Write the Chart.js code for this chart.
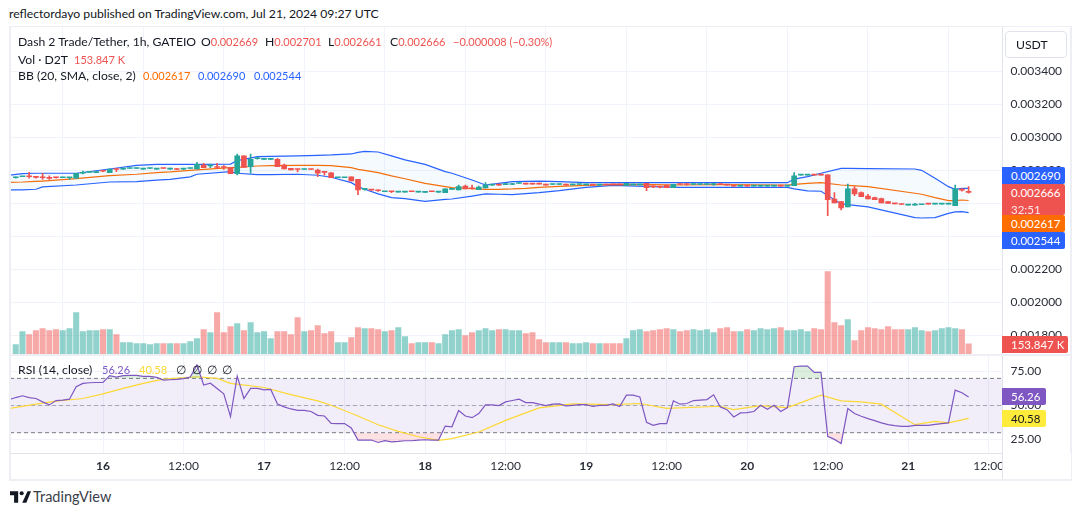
<!DOCTYPE html>
<html>
<head>
<meta charset="utf-8">
<script src="https://cdn.jsdelivr.net/npm/chart.js@4"></script>
<style>
  html, body { margin: 0; padding: 0; background: #fff; }
  body { width: 1080px; height: 515px; position: relative; overflow: hidden; font-family: Lato, sans-serif; font-size: 12.2px; color: #131722; }
  canvas { position: absolute; }
  .t { position: absolute; white-space: nowrap; line-height: 16px; }
  .n { font-size: 11px; }
  .tag { position: absolute; left: 1002px; padding-left: 9px; box-sizing: border-box; color: #fff; font-size: 11.5px; border-radius: 0 2px 2px 0; line-height: 17px; }
  .frame { position: absolute; background: #edeff5; }
</style>
</head>
<body>
<canvas id="priceChart" width="1060" height="327" style="left:10px;top:27px"></canvas>
<canvas id="rsiChart" width="1060" height="124" style="left:10px;top:356px"></canvas>

<div class="frame" style="left:9px;top:26px;width:1062px;height:1px"></div>
<div class="frame" style="left:9px;top:26px;width:2px;height:455px"></div>
<div class="frame" style="left:1070px;top:26px;width:2px;height:455px"></div>
<div class="frame" style="left:9px;top:479px;width:1063px;height:2px"></div>
<div class="frame" style="left:10px;top:354px;width:1060px;height:2px"></div>
<!-- cuts the last time label at the price scale -->
<div style="position:absolute;left:1002px;top:453px;width:68px;height:26px;background:#fff;border-left:1px solid #e0e3eb"></div>

<div class="t" style="left:9px;top:6px">reflectordayo published on TradingView.com, Jul 21, 2024 09:27 UTC</div>

<div class="t" style="left:18px;top:34px">Dash 2 Trade/Tether, 1h, GATEIO</div>
<div class="t" style="left:201px;top:34px">O<span class="n" style="color:#ef5350">0.002669</span></div>
<div class="t" style="left:265px;top:34px">H<span class="n" style="color:#ef5350">0.002701</span></div>
<div class="t" style="left:328px;top:34px">L<span class="n" style="color:#ef5350">0.002661</span></div>
<div class="t" style="left:390px;top:34px">C<span class="n" style="color:#ef5350">0.002666</span></div>
<div class="t n" style="left:453px;top:34px;color:#ef5350">−0.000008 (−0.30%)</div>
<div class="t" style="left:18px;top:52px">Vol · D2T</div>
<div class="t n" style="left:74px;top:52px;color:#ef5350">153.847 K</div>
<div class="t" style="left:18px;top:68px">BB (20, SMA, close, 2)</div>
<div class="t n" style="left:143px;top:68px;color:#ff6d00">0.002617</div>
<div class="t n" style="left:198px;top:68px;color:#2962ff">0.002690</div>
<div class="t n" style="left:254px;top:68px;color:#2962ff">0.002544</div>

<div class="t" style="left:18px;top:362px">RSI (14, close)</div>
<div class="t n" style="left:102px;top:362px;color:#7e57c2">56.26</div>
<div class="t n" style="left:139px;top:362px;color:#fdd835">40.58</div>
<div class="t" style="left:176px;top:362px">∅</div>
<div class="t" style="left:192px;top:362px">∅</div>
<div class="t" style="left:207px;top:362px">∅</div>
<div class="t" style="left:222px;top:362px">∅</div>

<div class="t" style="left:1005px;top:31px;width:50px;height:25px;padding-left:10px;line-height:25px;border:1px solid #e0e3eb;border-radius:4px">USDT</div>

<div class="tag" style="top:167px;width:63px;height:17px;background:#2962ff">0.002690</div>
<div class="tag" style="top:184px;width:63px;height:31px;background:#ef5350">0.002666<br><span style="opacity:.85">32:51</span></div>
<div class="tag" style="top:215px;width:63px;height:17px;background:#ff6d00">0.002617</div>
<div class="tag" style="top:232px;width:63px;height:17px;background:#2962ff">0.002544</div>
<div class="tag" style="top:336px;width:66px;height:17px;background:#ef5350">153.847 K</div>
<div class="tag" style="top:388px;width:44px;height:17px;background:#7e57c2">56.26</div>
<div class="tag" style="top:410px;width:44px;height:17px;background:#ffeb3b;color:#131722">40.58</div>

<svg style="position:absolute;left:10px;top:491px" width="21" height="12" viewBox="0 0 36 20">
  <path d="M0 0h14v20H7V7H0z M30 0l6 0-8 20h-7z" fill="#131722"/><circle cx="20" cy="3.5" r="3.5" fill="#131722"/>
</svg>
<div class="t" style="left:33px;top:489px;font-size:14.5px;color:#3a3e49">TradingView</div>

<script>
// prices in millionths of USDT, one candle per hour, bar 0 = Jul 15 11:00
const opens = [
  2755,2761,2763,2759,2757,2753,2757,2755,2755,2752,2782,2787,2786,2796,2786,2807,2807,2811,2811,2807,
  2811,2807,2813,2807,2807,2807,2811,2808,2832,2826,2819,2819,2816,2780,2887,2822,2870,2866,2866,2867,
  2832,2812,2807,2805,2807,2802,2789,2784,2755,2755,2760,2745,2684,2682,2678,2670,2672,2668,2668,2672,
  2668,2666,2672,2668,2665,2684,2681,2705,2690,2683,2693,2710,2712,2713,2714,2720,2718,2718,2718,2712,
  2714,2714,2712,2712,2714,2712,2712,2710,2717,2714,2714,2709,2712,2712,2721,2702,2700,2711,2695,2716,
  2716,2714,2714,2714,2714,2716,2712,2706,2704,2706,2704,2704,2704,2704,2706,2704,2707,2771,2771,2773,
  2773,2772,2626,2610,2578,2687,2665,2644,2634,2628,2610,2599,2595,2589,2589,2591,2597,2595,2595,2595,
  2586,2682,2669];
const closes = [
  2757,2763,2761,2757,2755,2751,2755,2757,2757,2782,2788,2789,2792,2794,2808,2805,2809,2813,2813,2809,
  2813,2809,2811,2809,2805,2809,2813,2836,2816,2830,2817,2817,2780,2887,2818,2867,2872,2868,2868,2822,
  2808,2802,2805,2807,2805,2782,2787,2756,2757,2757,2735,2681,2686,2680,2676,2672,2670,2670,2670,2670,
  2670,2668,2670,2670,2687,2686,2701,2687,2688,2699,2711,2712,2710,2719,2716,2722,2716,2716,2716,2710,
  2716,2716,2710,2714,2716,2714,2710,2712,2711,2712,2712,2721,2714,2714,2695,2700,2698,2695,2715,2714,
  2714,2716,2716,2716,2716,2714,2710,2704,2706,2704,2706,2706,2706,2706,2704,2706,2766,2773,2773,2771,
  2771,2622,2602,2572,2687,2657,2640,2626,2622,2602,2600,2597,2593,2591,2591,2593,2595,2597,2597,2597,
  2687,2680,2666];
const highs = [
  2760,2763,2788,2763,2782,2766,2759,2759,2757,2782,2796,2791,2792,2796,2808,2812,2812,2813,2813,2811,
  2813,2812,2813,2813,2811,2812,2813,2848,2842,2838,2842,2828,2818,2899,2887,2899,2878,2870,2873,2873,
  2838,2812,2807,2807,2807,2808,2789,2786,2757,2757,2760,2745,2690,2682,2682,2672,2672,2670,2672,2672,
  2670,2668,2672,2670,2687,2686,2711,2711,2711,2705,2725,2712,2715,2719,2721,2722,2722,2718,2722,2716,
  2716,2716,2716,2714,2716,2714,2712,2712,2717,2714,2714,2721,2714,2714,2721,2706,2704,2711,2715,2716,
  2716,2716,2716,2716,2721,2716,2712,2706,2706,2706,2706,2706,2708,2706,2706,2706,2786,2773,2773,2773,
  2776,2772,2665,2612,2717,2701,2669,2655,2637,2632,2612,2599,2595,2591,2600,2593,2600,2597,2597,2597,
  2711,2689,2701];
const lows = [
  2753,2761,2752,2752,2745,2745,2752,2755,2745,2752,2778,2786,2786,2792,2786,2792,2806,2811,2811,2805,
  2811,2805,2811,2805,2804,2804,2811,2808,2816,2816,2810,2806,2780,2772,2818,2782,2868,2866,2865,2822,
  2808,2802,2790,2805,2805,2762,2770,2756,2755,2755,2735,2653,2680,2680,2672,2670,2665,2668,2668,2670,
  2668,2666,2670,2665,2665,2684,2681,2687,2685,2683,2693,2708,2709,2713,2713,2720,2716,2716,2716,2710,
  2714,2714,2710,2712,2714,2712,2710,2710,2711,2712,2712,2709,2712,2712,2677,2695,2693,2695,2695,2714,
  2710,2714,2714,2714,2709,2714,2710,2704,2704,2704,2704,2704,2704,2704,2704,2704,2707,2771,2771,2771,
  2771,2525,2602,2560,2578,2646,2640,2626,2622,2602,2600,2597,2593,2589,2589,2591,2595,2595,2595,2595,
  2586,2673,2661];
// volume in thousands of D2T
const volumes = [
  140,335,290,350,380,350,365,350,380,620,335,350,350,365,365,290,170,170,155,155,
  140,155,155,155,155,155,185,230,365,320,620,320,410,455,350,470,320,335,230,335,
  335,290,545,335,350,425,305,335,170,170,245,395,380,380,365,335,350,395,260,155,
  170,170,170,155,290,350,365,275,320,350,380,350,365,365,350,350,305,320,215,170,
  170,170,170,155,155,170,155,155,155,155,155,230,350,365,335,350,365,380,365,335,
  350,365,350,365,320,380,395,335,335,365,350,380,365,380,395,350,350,365,335,380,
  365,1235,470,425,515,200,350,395,380,365,410,365,365,365,395,350,335,350,380,395,
  380,365,153.847];

// Bollinger bands, read at these bars
const bbHours = [-1,1,3,4,9,14,18,21,23,26,27,32,33,36,38,42,45,47,50,51,52,54,56,58,61,64,65,68,70,72,74,76,78,81,85,89,95,99,105,115,116,118,120,123,124,127,134,135,137,139,140,141,142];
const bbUpper = [2770,2780,2782,2782,2782,2808,2830,2836,2836,2836,2836,2838,2859,2883,2885,2887,2891,2893,2899,2909,2915,2911,2887,2863,2836,2792,2782,2741,2711,2721,2731,2733,2735,2731,2725,2725,2725,2725,2725,2725,2747,2762,2782,2812,2812,2810,2808,2800,2752,2701,2685,2691,2690];
const bbBasis = [2727,2729,2733,2735,2749,2768,2776,2786,2790,2800,2802,2816,2818,2826,2828,2830,2830,2828,2816,2806,2800,2786,2766,2749,2721,2701,2695,2689,2685,2685,2687,2691,2697,2703,2709,2715,2713,2711,2713,2711,2715,2721,2725,2711,2709,2701,2661,2655,2634,2616,2616,2620,2617];
const bbLower = [2681,2681,2685,2699,2711,2729,2731,2741,2745,2760,2776,2792,2782,2774,2774,2776,2770,2758,2725,2701,2685,2657,2634,2628,2612,2624,2626,2644,2657,2655,2653,2659,2665,2677,2697,2709,2701,2697,2697,2697,2687,2675,2673,2596,2592,2578,2513,2511,2513,2539,2548,2550,2544];

// RSI per bar, first value is the bar before the first candle
const rsiValues = [
  54.4,55.9,57.2,55.9,55.2,52.7,50.5,53.7,54.0,54.7,63.8,66.3,66.8,67.0,67.0,72.0,71.0,72.0,72.2,72.2,
  71.5,71.5,70.7,68.8,69.0,69.3,69.8,71.0,79.9,65.1,66.5,62.6,58.6,41.9,71.7,55.2,62.6,62.6,61.6,61.9,
  51.2,49.0,47.5,46.5,46.5,45.6,42.8,42.3,36.9,36.7,36.7,33.5,24.6,24.6,24.6,22.8,24.1,23.3,23.6,24.1,
  24.1,24.6,24.8,24.6,24.6,34.9,34.4,46.3,42.3,41.1,44.1,50.5,50.5,50.0,52.7,53.7,54.7,52.2,52.2,51.0,
  50.0,51.0,51.2,49.8,50.2,50.7,50.7,49.3,50.2,50.2,51.2,49.3,57.7,57.7,56.4,37.7,35.4,36.7,36.7,53.5,
  51.0,51.5,53.7,54.0,54.4,57.9,49.0,47.0,41.6,44.6,44.8,45.6,50.2,47.3,50.2,45.6,48.5,78.6,79.1,79.1,
  74.4,74.4,27.3,25.1,22.1,47.8,44.1,42.1,40.4,38.9,37.2,35.9,35.2,34.7,34.7,35.4,35.4,35.4,36.2,36.7,
  37.2,61.4,59.4,56.26];
const rsiMaHours = [-1,3,6,10,13,16,19,22,27,30,32,37,41,45,47,51,54,57,60,63,65,69,73,78,83,89,93,97,105,107,111,115,120,123,126,129,134,137,139,142];
const rsiMaValues = [47.8,51,53.2,55.2,58.6,62.6,66.3,69.5,71.2,70,66.3,63.3,58.1,53.5,50.2,42.3,35.9,31,27,24.3,25.6,30.5,39.1,48.3,51.2,50.7,51.5,48,49.5,47,50,48.5,57.7,53.5,52.7,51,35.9,38.4,37.2,40.58];

const priceTicks = [3400,3200,3000,2800,2600,2400,2200,2000,1800];
const rsiTicks = [75,50,25];
const timeTickHours = [13,25,37,49,61,73,85,97,109,121,133,145];
const timeTickLabels = ["16","12:00","17","12:00","18","12:00","19","12:00","20","12:00","21","12:00"];

const UP = "#26a69a", DOWN = "#ef5350";
const UP_VOL = "rgba(38,166,154,0.5)", DOWN_VOL = "rgba(239,83,80,0.5)";
const GRID = "#f0f3fa", AXIS = "#e0e3eb", TEXT = "#2a2e39";
const FONT = "Lato, sans-serif";
const xMin = -0.86, xMax = 147.05;

Chart.defaults.animation = false;
Chart.defaults.font.family = FONT;

const isUp = closes.map((c, i) => c >= opens[i]);
const lineOf = (hours, values) => values.map((y, i) => ({ x: hours[i], y }));
const barHours = opens.map((_, i) => i);
const rsiHours = rsiValues.map((_, i) => i - 1);

const xAxis = (showLabels) => ({
  type: "linear", min: xMin, max: xMax, offset: false,
  afterBuildTicks: (s) => { s.ticks = timeTickHours.map((value) => ({ value })); },
  afterFit: (s) => { s.height = showLabels ? 27 : 0; s.paddingLeft = 0; s.paddingRight = 0; },
  grid: { color: GRID, drawTicks: false },
  border: { display: showLabels, color: AXIS },
  ticks: {
    display: showLabels, autoSkip: false, maxRotation: 0, padding: 6, color: TEXT,
    font: (ctx) => ({ size: 12, family: FONT, weight: ctx.tick && !String(ctx.tick.label).includes(":") ? "bold" : "normal" }),
    callback: (v) => timeTickLabels[timeTickHours.indexOf(v)],
  },
});

const yAxis = (min, max, ticks, digits, scaleBy) => ({
  position: "right", min, max,
  afterBuildTicks: (s) => { s.ticks = ticks.map((value) => ({ value })); },
  // the label half-heights would otherwise shrink the pane
  afterFit: (s) => { s.width = 67.5; s.paddingTop = 0; s.paddingBottom = 0; },
  grid: { color: GRID, drawTicks: false },
  border: { color: AXIS },
  ticks: { padding: 8, color: TEXT, font: { size: 12 }, callback: (v) => (v / scaleBy).toFixed(digits) },
});

new Chart(document.getElementById("priceChart"), {
  type: "bar",
  data: {
    datasets: [
      { type: "line", data: lineOf(bbHours, bbUpper), yAxisID: "y", order: 4, borderColor: "#2962ff", borderWidth: 1.2, pointRadius: 0,
        fill: "+2", backgroundColor: "rgba(33,150,243,0.05)" },
      { type: "line", data: lineOf(bbHours, bbBasis), yAxisID: "y", order: 4, borderColor: "#ff6d00", borderWidth: 1.2, pointRadius: 0 },
      { type: "line", data: lineOf(bbHours, bbLower), yAxisID: "y", order: 4, borderColor: "#2962ff", borderWidth: 1.2, pointRadius: 0 },
      { data: volumes.map((y, i) => ({ x: i, y })), yAxisID: "yVol", order: 5, grouped: false, barThickness: 5.4,
        backgroundColor: isUp.map((u) => (u ? UP_VOL : DOWN_VOL)) },
      { data: barHours.map((x) => ({ x, y: [lows[x], highs[x]] })), yAxisID: "y", order: 2, grouped: false, barThickness: 1,
        backgroundColor: isUp.map((u) => (u ? UP : DOWN)) },
      { data: barHours.map((x) => ({ x, y: [opens[x], closes[x]] })), yAxisID: "y", order: 1, grouped: false, barThickness: 5, minBarLength: 1,
        backgroundColor: isUp.map((u) => (u ? UP : DOWN)) },
    ],
  },
  options: {
    responsive: false,
    layout: { padding: 0, autoPadding: false },
    plugins: { legend: { display: false }, tooltip: { enabled: false } },
    scales: {
      x: xAxis(false),
      y: yAxis(1686.7, 3668.5, priceTicks, 6, 1e6),
      yVol: { display: false, min: 0, max: 4905 },
    },
  },
});

new Chart(document.getElementById("rsiChart"), {
  type: "line",
  data: {
    datasets: [
      { data: [{ x: xMin, y: 70 }, { x: xMax, y: 70 }], order: 3, borderColor: "#787b86", borderWidth: 1, borderDash: [4, 3], pointRadius: 0,
        fill: "+1", backgroundColor: "rgba(126,87,194,0.1)" },
      { data: [{ x: xMin, y: 30 }, { x: xMax, y: 30 }], order: 3, borderColor: "#787b86", borderWidth: 1, borderDash: [4, 3], pointRadius: 0 },
      { data: [{ x: xMin, y: 50 }, { x: xMax, y: 50 }], order: 3, borderColor: "rgba(120,123,134,0.6)", borderWidth: 1, borderDash: [4, 3], pointRadius: 0 },
      { data: lineOf(rsiHours, rsiValues), order: 1, borderColor: "#7e57c2", borderWidth: 1.2, pointRadius: 0,
        fill: { target: { value: 70 }, above: "rgba(76,175,80,0.2)", below: "transparent" } },
      { data: lineOf(rsiHours, rsiValues), order: 4, borderWidth: 0, pointRadius: 0,
        fill: { target: { value: 30 }, above: "transparent", below: "rgba(242,54,69,0.15)" } },
      { data: lineOf(rsiMaHours, rsiMaValues), order: 2, borderColor: "#fdd835", borderWidth: 1.2, pointRadius: 0 },
    ],
  },
  options: {
    responsive: false,
    layout: { padding: 0, autoPadding: false },
    plugins: { legend: { display: false }, tooltip: { enabled: false } },
    scales: {
      x: xAxis(true),
      y: yAxis(15.06, 86.5, rsiTicks, 2, 1),
    },
  },
});
</script>
</body>
</html>
